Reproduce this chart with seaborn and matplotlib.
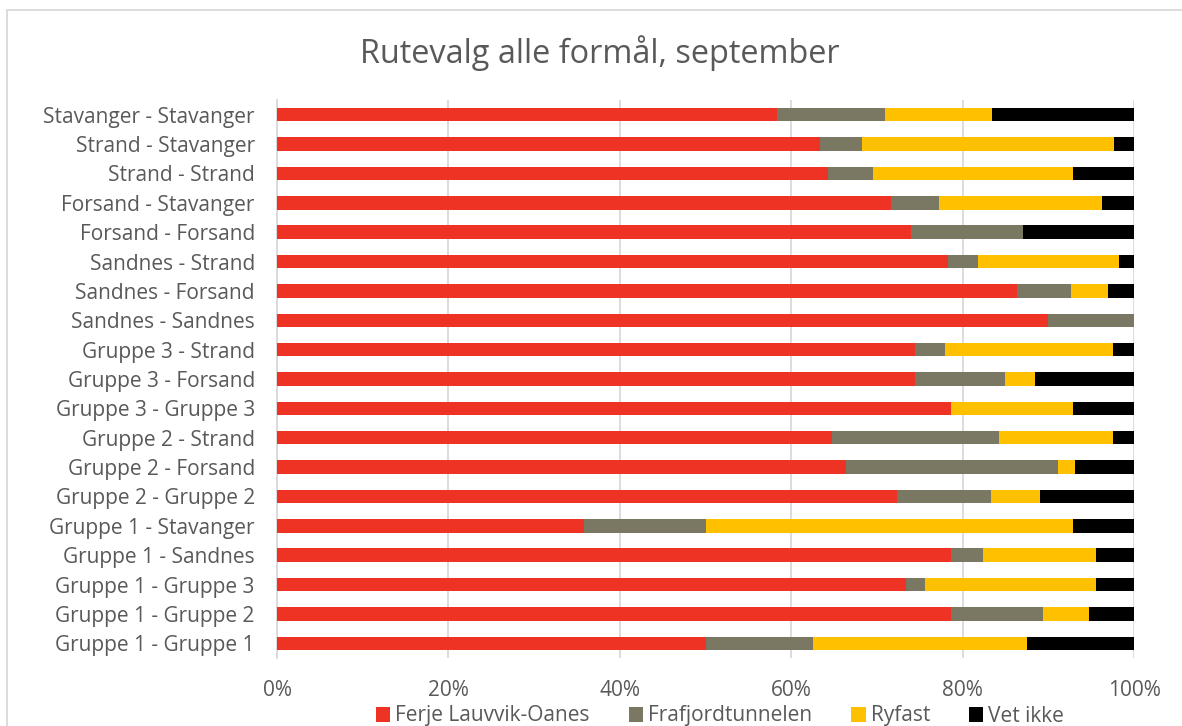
import matplotlib
matplotlib.use("Agg")
import matplotlib.pyplot as plt
import seaborn as sns
import pandas as pd
import numpy as np
from matplotlib.patches import Rectangle, Patch

categories = [
    "Stavanger - Stavanger", "Strand - Stavanger", "Strand - Strand",
    "Forsand - Stavanger", "Forsand - Forsand", "Sandnes - Strand",
    "Sandnes - Forsand", "Sandnes - Sandnes", "Gruppe 3 - Strand",
    "Gruppe 3 - Forsand", "Gruppe 3 - Gruppe 3", "Gruppe 2 - Strand",
    "Gruppe 2 - Forsand", "Gruppe 2 - Gruppe 2", "Gruppe 1 - Stavanger",
    "Gruppe 1 - Sandnes", "Gruppe 1 - Gruppe 3", "Gruppe 1 - Gruppe 2",
    "Gruppe 1 - Gruppe 1",
]
ferje = [58.3, 63.4, 64.3, 71.6, 74.0, 78.3, 86.3, 90.0, 74.5, 74.5, 78.6, 64.8, 66.4, 72.3, 35.8, 78.7, 73.4, 78.6, 50.0]
frafjord = [12.6, 4.9, 5.3, 5.7, 13.0, 3.5, 6.4, 10.0, 3.5, 10.4, 0.0, 19.5, 24.7, 11.0, 14.2, 3.7, 2.2, 10.8, 12.5]
ryfast = [12.5, 29.4, 23.3, 19.0, 0.0, 16.4, 4.3, 0.0, 19.6, 3.5, 14.3, 13.2, 2.0, 5.7, 42.9, 13.2, 20.0, 5.3, 25.0]
vet_ikke = [16.6, 2.3, 7.1, 3.7, 13.0, 1.8, 3.0, 0.0, 2.4, 11.6, 7.1, 2.5, 6.9, 11.0, 7.1, 4.4, 4.4, 5.3, 12.5]
series_names = ["Ferje Lauvvik-Oanes", "Frafjordtunnelen", "Ryfast", "Vet ikke"]
colors = ["#EE3224", "#7A7762", "#FFC000", "#000000"]
x_ticks = [0, 20, 40, 60, 80, 100]
x_tick_labels = ["0%", "20%", "40%", "60%", "80%", "100%"]
title = "Rutevalg alle formål, september"

sns.set_theme(style="white")
plt.rcParams["font.family"] = ["Open Sans", "DejaVu Sans"]
text_color = "#595959"
grid_color = "#D9D9D9"

df = pd.DataFrame({"cat": categories, "a": ferje, "b": frafjord, "c": ryfast, "d": vet_ikke})
vals = df[["a", "b", "c", "d"]].to_numpy()
cum = np.cumsum(vals, axis=1)

fig = plt.figure(figsize=(11.82, 7.26), dpi=100)
ax = fig.add_axes([277 / 1182, 1 - 658 / 726, (1134 - 277) / 1182, (658 - 100) / 726])

for i in range(3, -1, -1):
    sns.barplot(x=cum[:, i], y=df["cat"], orient="h", color=colors[i], width=0.46,
                ax=ax, saturation=1, zorder=3, linewidth=0)

ax.set_xlim(0, 100)
ax.set_ylim(len(categories) - 0.5, -0.5)
ax.set_xticks(x_ticks)
ax.set_xticklabels(x_tick_labels)
ax.set_xlabel("")
ax.set_ylabel("")
ax.grid(axis="x", color=grid_color, linewidth=1.3, zorder=0)
ax.grid(axis="y", visible=False)
for s in ["top", "right", "bottom"]:
    ax.spines[s].set_visible(False)
ax.spines["left"].set_color(grid_color)
ax.spines["left"].set_linewidth(1.3)
ax.tick_params(axis="both", length=0, labelsize=15, colors=text_color)
ax.tick_params(axis="y", pad=16)
ax.tick_params(axis="x", pad=16)

fig.text(600 / 1182, 1 - 53 / 726, title, ha="center", va="center", fontsize=23.4, color=text_color)

handles = [Patch(facecolor=c, edgecolor="none") for c in colors]
fig.legend(handles, series_names, loc="center", bbox_to_anchor=(720 / 1182, 1 - 716 / 726),
           ncol=4, frameon=False, fontsize=15, labelcolor=text_color,
           handlelength=0.7, handleheight=0.7, handletextpad=0.25, columnspacing=1.85,
           borderpad=0, borderaxespad=0)

fig.patches.append(Rectangle((7 / 1182, -0.1), 1.2, 1 - 10 / 726 + 0.1, transform=fig.transFigure,
                             fill=False, edgecolor=grid_color, linewidth=1.3))

fig.savefig("out.png", dpi=100, facecolor="white")
